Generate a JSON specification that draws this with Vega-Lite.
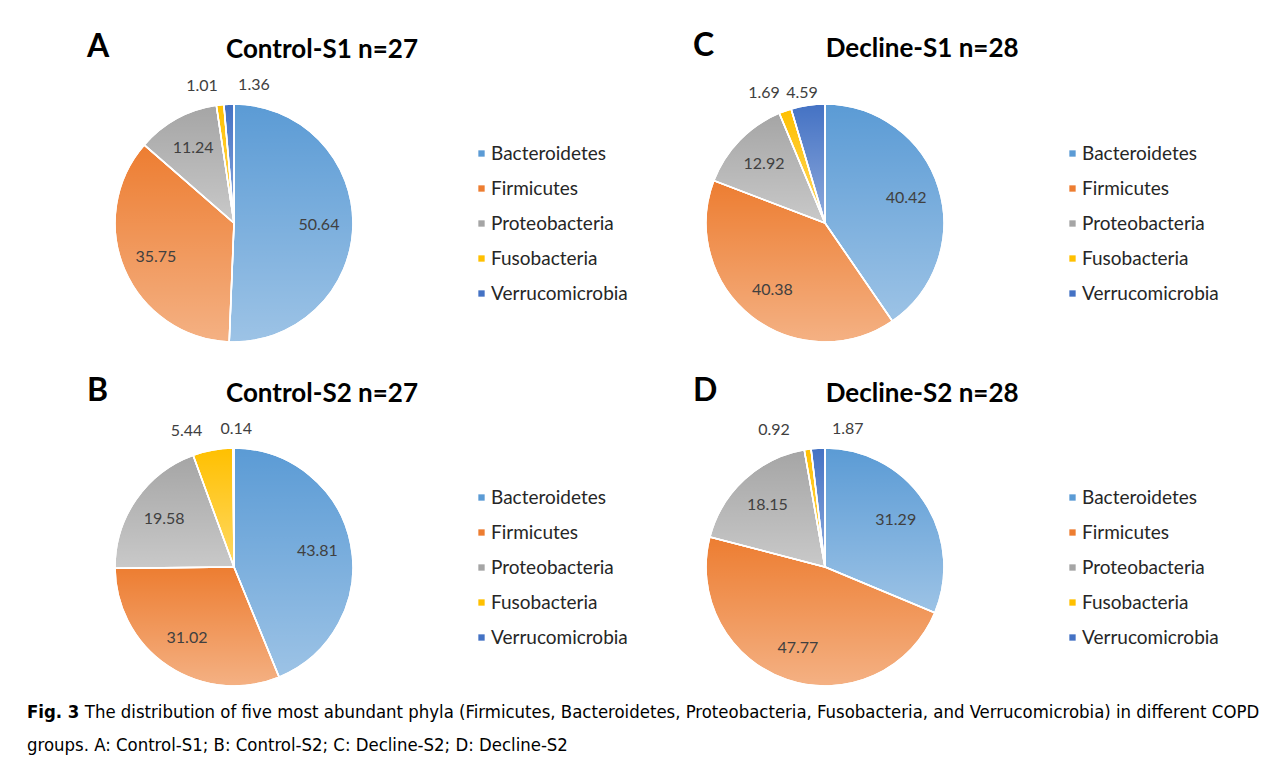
{
  "$schema": "https://vega.github.io/schema/vega-lite/v6.json",
  "background": "white",
  "padding": {"left": 27, "top": 29, "right": 5, "bottom": 5},
  "bounds": "flush",
  "config": {"view": {"stroke": null}, "font": "Lato"},
  "datasets": {
    "phyla": [
      {"panel": "A", "phylum": "Bacteroidetes", "rank": 1, "value": 50.64},
      {"panel": "A", "phylum": "Firmicutes", "rank": 2, "value": 35.75},
      {"panel": "A", "phylum": "Proteobacteria", "rank": 3, "value": 11.24},
      {"panel": "A", "phylum": "Fusobacteria", "rank": 4, "value": 1.01},
      {"panel": "A", "phylum": "Verrucomicrobia", "rank": 5, "value": 1.36},
      {"panel": "B", "phylum": "Bacteroidetes", "rank": 1, "value": 43.81},
      {"panel": "B", "phylum": "Firmicutes", "rank": 2, "value": 31.02},
      {"panel": "B", "phylum": "Proteobacteria", "rank": 3, "value": 19.58},
      {"panel": "B", "phylum": "Fusobacteria", "rank": 4, "value": 5.44},
      {"panel": "B", "phylum": "Verrucomicrobia", "rank": 5, "value": 0.14},
      {"panel": "C", "phylum": "Bacteroidetes", "rank": 1, "value": 40.42},
      {"panel": "C", "phylum": "Firmicutes", "rank": 2, "value": 40.38},
      {"panel": "C", "phylum": "Proteobacteria", "rank": 3, "value": 12.92},
      {"panel": "C", "phylum": "Fusobacteria", "rank": 4, "value": 1.69},
      {"panel": "C", "phylum": "Verrucomicrobia", "rank": 5, "value": 4.59},
      {"panel": "D", "phylum": "Bacteroidetes", "rank": 1, "value": 31.29},
      {"panel": "D", "phylum": "Firmicutes", "rank": 2, "value": 47.77},
      {"panel": "D", "phylum": "Proteobacteria", "rank": 3, "value": 18.15},
      {"panel": "D", "phylum": "Fusobacteria", "rank": 4, "value": 0.92},
      {"panel": "D", "phylum": "Verrucomicrobia", "rank": 5, "value": 1.87}
    ]
  },
  "title": {
    "text": "Fig. 3",
    "subtitle": ["\u200b\u00a0\u00a0\u00a0\u00a0\u00a0\u00a0\u00a0\u00a0\u00a0\u00a0\u00a0The distribution of five most abundant phyla (Firmicutes, Bacteroidetes, Proteobacteria, Fusobacteria, and Verrucomicrobia) in different COPD", "groups. A: Control-S1; B: Control-S2; C: Decline-S2; D: Decline-S2"],
    "orient": "bottom",
    "anchor": "start",
    "frame": "group",
    "font": "'DejaVu Sans Condensed', 'Liberation Sans Narrow', 'Liberation Sans', sans-serif",
    "fontSize": 18.4,
    "fontWeight": "bold",
    "color": "black",
    "subtitleFont": "'DejaVu Sans Condensed', 'Liberation Sans Narrow', 'Liberation Sans', sans-serif",
    "subtitleFontSize": 18.4,
    "subtitleColor": "black",
    "subtitlePadding": -18.4,
    "subtitleLineHeight": 33,
    "dx": -77,
    "offset": -3
  },
  "columns": 2,
  "spacing": {"row": 84, "column": 331},
  "resolve": {"scale": {"color": "independent"}, "legend": {"color": "independent"}},
  "concat": [
    {
      "width": 260, "height": 260,
      "data": {"name": "phyla"},
      "transform": [{"filter": "datum.panel === 'A'"}],
      "title": {"text": "A", "subtitle": "\u200b\u00a0\u00a0\u00a0\u00a0\u00a0\u00a0\u00a0\u00a0\u00a0\u00a0\u00a0\u00a0\u00a0\u00a0\u00a0\u00a0\u00a0\u00a0\u00a0\u00a0\u00a0\u00a0Control-S1 n=27", "anchor": "start", "frame": "group", "dx": -17, "fontSize": 32, "fontWeight": "bold", "color": "black", "subtitleFontSize": 26, "subtitleFontWeight": "bold", "subtitleColor": "black", "subtitlePadding": -27, "offset": 13},
      "encoding": {
        "theta": {"field": "value", "type": "quantitative", "stack": true},
        "order": {"field": "rank", "type": "quantitative"},
        "detail": {"field": "phylum", "type": "nominal"}
      },
      "layer": [
        {"mark": {"type": "arc", "outerRadius": 119, "stroke": "white", "strokeWidth": 1.5},
         "encoding": {"color": {"field": "phylum", "type": "nominal",
           "scale": {"domain": ["Bacteroidetes", "Firmicutes", "Proteobacteria", "Fusobacteria", "Verrucomicrobia"], "range": ["#5B9BD5", "#ED7D31", "#A5A5A5", "#FFC000", "#4472C4"]},
           "legend": {"orient": "none", "legendX": 368, "legendY": 51, "title": null, "symbolType": "square", "symbolSize": 40, "symbolStrokeWidth": 0, "labelFontSize": 19, "labelColor": "#262626", "rowPadding": 15, "labelOffset": 0}}}},
        {"mark": {"type": "arc", "outerRadius": 119, "stroke": "white", "strokeWidth": 1.5, "fill": {"gradient": "linear", "x1": 0, "y1": 0, "x2": 0, "y2": 1, "stops": [{"offset": 0, "color": "rgba(255,255,255,0)"}, {"offset": 1, "color": "rgba(255,255,255,0.4)"}]}}},
        {"mark": {"type": "text", "radius": 85, "fontSize": 16}, "encoding": {"color": {"value": "#404040"}, "text": {"condition": {"test": "datum.rank <= 3", "field": "value", "type": "quantitative", "format": ".2f"}, "value": ""}}},
        {"mark": {"type": "text", "radius": 138, "fontSize": 16, "align": "right", "dx": 0}, "encoding": {"color": {"value": "#404040"}, "text": {"condition": {"test": "datum.rank === 4", "field": "value", "type": "quantitative", "format": ".2f"}, "value": ""}}},
        {"mark": {"type": "text", "radius": 138, "fontSize": 16, "align": "left", "dx": 10}, "encoding": {"color": {"value": "#404040"}, "text": {"condition": {"test": "datum.rank === 5", "field": "value", "type": "quantitative", "format": ".2f"}, "value": ""}}}
      ]
    },
    {
      "width": 260, "height": 260,
      "data": {"name": "phyla"},
      "transform": [{"filter": "datum.panel === 'C'"}],
      "title": {"text": "C", "subtitle": "\u200b\u00a0\u00a0\u00a0\u00a0\u00a0\u00a0\u00a0\u00a0\u00a0\u00a0\u00a0\u00a0\u00a0\u00a0\u00a0\u00a0\u00a0\u00a0\u00a0\u00a0\u00a0Decline-S1 n=28", "anchor": "start", "frame": "group", "dx": -2, "fontSize": 32, "fontWeight": "bold", "color": "black", "subtitleFontSize": 26, "subtitleFontWeight": "bold", "subtitleColor": "black", "subtitlePadding": -27, "offset": 15.5},
      "encoding": {
        "theta": {"field": "value", "type": "quantitative", "stack": true},
        "order": {"field": "rank", "type": "quantitative"},
        "detail": {"field": "phylum", "type": "nominal"}
      },
      "layer": [
        {"mark": {"type": "arc", "outerRadius": 119, "stroke": "white", "strokeWidth": 1.5},
         "encoding": {"color": {"field": "phylum", "type": "nominal",
           "scale": {"domain": ["Bacteroidetes", "Firmicutes", "Proteobacteria", "Fusobacteria", "Verrucomicrobia"], "range": ["#5B9BD5", "#ED7D31", "#A5A5A5", "#FFC000", "#4472C4"]},
           "legend": {"orient": "none", "legendX": 368, "legendY": 51, "title": null, "symbolType": "square", "symbolSize": 40, "symbolStrokeWidth": 0, "labelFontSize": 19, "labelColor": "#262626", "rowPadding": 15, "labelOffset": 0}}}},
        {"mark": {"type": "arc", "outerRadius": 119, "stroke": "white", "strokeWidth": 1.5, "fill": {"gradient": "linear", "x1": 0, "y1": 0, "x2": 0, "y2": 1, "stops": [{"offset": 0, "color": "rgba(255,255,255,0)"}, {"offset": 1, "color": "rgba(255,255,255,0.4)"}]}}},
        {"mark": {"type": "text", "radius": 85, "fontSize": 16}, "encoding": {"color": {"value": "#404040"}, "text": {"condition": {"test": "datum.rank <= 3", "field": "value", "type": "quantitative", "format": ".2f"}, "value": ""}}},
        {"mark": {"type": "text", "radius": 138, "fontSize": 16, "align": "right", "dx": 1, "dy": 0}, "encoding": {"color": {"value": "#404040"}, "text": {"condition": {"test": "datum.rank === 4", "field": "value", "type": "quantitative", "format": ".2f"}, "value": ""}}},
        {"mark": {"type": "text", "radius": 138, "fontSize": 16, "align": "left", "dx": -19, "dy": 7}, "encoding": {"color": {"value": "#404040"}, "text": {"condition": {"test": "datum.rank === 5", "field": "value", "type": "quantitative", "format": ".2f"}, "value": ""}}}
      ]
    },
    {
      "width": 260, "height": 260,
      "data": {"name": "phyla"},
      "transform": [{"filter": "datum.panel === 'B'"}],
      "title": {"text": "B", "subtitle": "\u200b\u00a0\u00a0\u00a0\u00a0\u00a0\u00a0\u00a0\u00a0\u00a0\u00a0\u00a0\u00a0\u00a0\u00a0\u00a0\u00a0\u00a0\u00a0\u00a0\u00a0\u00a0\u00a0Control-S2 n=27", "anchor": "start", "frame": "group", "dx": -17, "fontSize": 32, "fontWeight": "bold", "color": "black", "subtitleFontSize": 26, "subtitleFontWeight": "bold", "subtitleColor": "black", "subtitlePadding": -27, "offset": 13},
      "encoding": {
        "theta": {"field": "value", "type": "quantitative", "stack": true},
        "order": {"field": "rank", "type": "quantitative"},
        "detail": {"field": "phylum", "type": "nominal"}
      },
      "layer": [
        {"mark": {"type": "arc", "outerRadius": 119, "stroke": "white", "strokeWidth": 1.5},
         "encoding": {"color": {"field": "phylum", "type": "nominal",
           "scale": {"domain": ["Bacteroidetes", "Firmicutes", "Proteobacteria", "Fusobacteria", "Verrucomicrobia"], "range": ["#5B9BD5", "#ED7D31", "#A5A5A5", "#FFC000", "#4472C4"]},
           "legend": {"orient": "none", "legendX": 368, "legendY": 51, "title": null, "symbolType": "square", "symbolSize": 40, "symbolStrokeWidth": 0, "labelFontSize": 19, "labelColor": "#262626", "rowPadding": 15, "labelOffset": 0}}}},
        {"mark": {"type": "arc", "outerRadius": 119, "stroke": "white", "strokeWidth": 1.5, "fill": {"gradient": "linear", "x1": 0, "y1": 0, "x2": 0, "y2": 1, "stops": [{"offset": 0, "color": "rgba(255,255,255,0)"}, {"offset": 1, "color": "rgba(255,255,255,0.4)"}]}}},
        {"mark": {"type": "text", "radius": 85, "fontSize": 16}, "encoding": {"color": {"value": "#404040"}, "text": {"condition": {"test": "datum.rank <= 3", "field": "value", "type": "quantitative", "format": ".2f"}, "value": ""}}},
        {"mark": {"type": "text", "radius": 138, "fontSize": 16, "align": "right", "dx": -7}, "encoding": {"color": {"value": "#404040"}, "text": {"condition": {"test": "datum.rank === 4", "field": "value", "type": "quantitative", "format": ".2f"}, "value": ""}}},
        {"mark": {"type": "text", "radius": 138, "fontSize": 16, "align": "left", "dx": -13}, "encoding": {"color": {"value": "#404040"}, "text": {"condition": {"test": "datum.rank === 5", "field": "value", "type": "quantitative", "format": ".2f"}, "value": ""}}}
      ]
    },
    {
      "width": 260, "height": 260,
      "data": {"name": "phyla"},
      "transform": [{"filter": "datum.panel === 'D'"}],
      "title": {"text": "D", "subtitle": "\u200b\u00a0\u00a0\u00a0\u00a0\u00a0\u00a0\u00a0\u00a0\u00a0\u00a0\u00a0\u00a0\u00a0\u00a0\u00a0\u00a0\u00a0\u00a0\u00a0\u00a0\u00a0Decline-S2 n=28", "anchor": "start", "frame": "group", "dx": -2, "fontSize": 32, "fontWeight": "bold", "color": "black", "subtitleFontSize": 26, "subtitleFontWeight": "bold", "subtitleColor": "black", "subtitlePadding": -27, "offset": 13},
      "encoding": {
        "theta": {"field": "value", "type": "quantitative", "stack": true},
        "order": {"field": "rank", "type": "quantitative"},
        "detail": {"field": "phylum", "type": "nominal"}
      },
      "layer": [
        {"mark": {"type": "arc", "outerRadius": 119, "stroke": "white", "strokeWidth": 1.5},
         "encoding": {"color": {"field": "phylum", "type": "nominal",
           "scale": {"domain": ["Bacteroidetes", "Firmicutes", "Proteobacteria", "Fusobacteria", "Verrucomicrobia"], "range": ["#5B9BD5", "#ED7D31", "#A5A5A5", "#FFC000", "#4472C4"]},
           "legend": {"orient": "none", "legendX": 368, "legendY": 51, "title": null, "symbolType": "square", "symbolSize": 40, "symbolStrokeWidth": 0, "labelFontSize": 19, "labelColor": "#262626", "rowPadding": 15, "labelOffset": 0}}}},
        {"mark": {"type": "arc", "outerRadius": 119, "stroke": "white", "strokeWidth": 1.5, "fill": {"gradient": "linear", "x1": 0, "y1": 0, "x2": 0, "y2": 1, "stops": [{"offset": 0, "color": "rgba(255,255,255,0)"}, {"offset": 1, "color": "rgba(255,255,255,0.4)"}]}}},
        {"mark": {"type": "text", "radius": 85, "fontSize": 16}, "encoding": {"color": {"value": "#404040"}, "text": {"condition": {"test": "datum.rank <= 3", "field": "value", "type": "quantitative", "format": ".2f"}, "value": ""}}},
        {"mark": {"type": "text", "radius": 138, "fontSize": 16, "align": "right", "dx": -15}, "encoding": {"color": {"value": "#404040"}, "text": {"condition": {"test": "datum.rank === 4", "field": "value", "type": "quantitative", "format": ".2f"}, "value": ""}}},
        {"mark": {"type": "text", "radius": 138, "fontSize": 16, "align": "left", "dx": 15}, "encoding": {"color": {"value": "#404040"}, "text": {"condition": {"test": "datum.rank === 5", "field": "value", "type": "quantitative", "format": ".2f"}, "value": ""}}}
      ]
    }
  ]
}
